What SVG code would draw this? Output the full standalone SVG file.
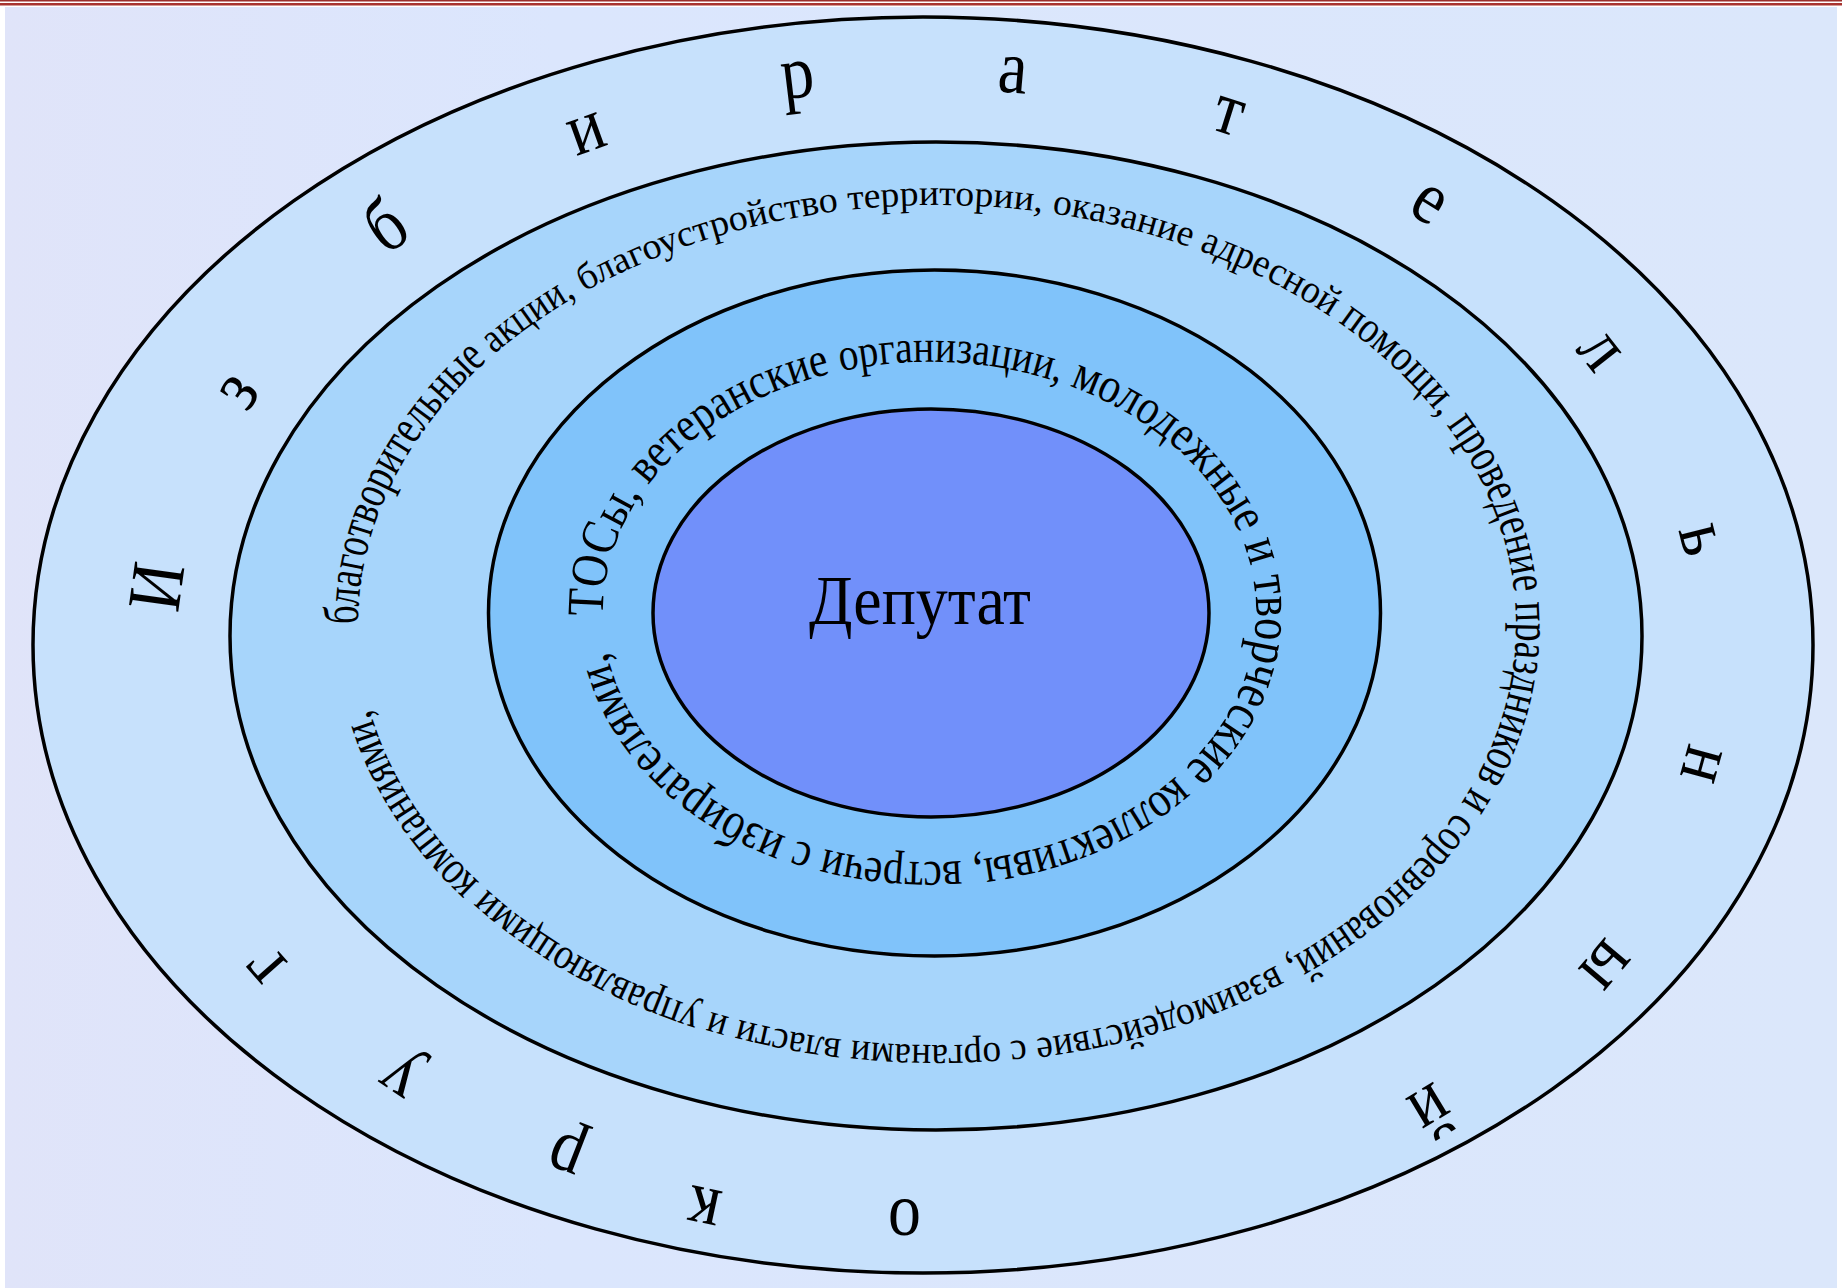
<svg xmlns="http://www.w3.org/2000/svg" width="1842" height="1288" viewBox="0 0 1842 1288">
<defs>
<linearGradient id="bg" x1="0" y1="0" x2="1" y2="0">
<stop offset="0" stop-color="#e0e4f9"/>
<stop offset="0.3" stop-color="#dbe6fd"/>
<stop offset="1" stop-color="#dbe7fb"/>
</linearGradient>
<path id="p2" d="M362.3,676.2 A579,420 0 1,1 1511.7,573.8 A579,420 0 1,1 362.3,676.2"/>
<path id="p3" d="M604.2,633.8 A326.5,250 0 1,1 1254.8,590.2 A326.5,250 0 1,1 604.2,633.8"/>
</defs>
<style>
.ring{stroke:#000;stroke-width:3.5}
.t{font-family:"Liberation Serif","Times New Roman",serif;fill:#000}
.big{font-size:66px}
</style>
<rect x="0" y="0" width="1842" height="1288" fill="#ffffff"/>
<rect x="5" y="7" width="1832" height="1281" fill="url(#bg)"/>
<rect x="0" y="0" width="1842" height="1.5" fill="#9b2f2c"/>
<rect x="0" y="3" width="1842" height="2.5" fill="#a8332f"/>
<g id="ring-outer">
<ellipse class="ring" cx="923" cy="645" rx="890" ry="628" fill="#c7e1fc"/>
<g class="t big" text-anchor="middle">
<text transform="translate(160.9,587.4) rotate(-82.06) scale(1,1.15)" y="18">И</text>
<text transform="translate(240.8,393.5) rotate(-56.05) scale(1,1.15)" y="14">з</text>
<text transform="translate(387.7,229.1) rotate(-35.2) scale(1,1.15)" y="18">б</text>
<text transform="translate(587.4,135.1) rotate(-19.8) scale(1,1.15)" y="14">и</text>
<text transform="translate(798.8,88.1) rotate(-6.9) scale(1,1.15)" y="8">р</text>
<text transform="translate(1012.6,76.4) rotate(4.97) scale(1,1.15)" y="14">а</text>
<text transform="translate(1227.6,117.5) rotate(17.5) scale(1,1.15)" y="14">т</text>
<text transform="translate(1427.3,205.6) rotate(32.2) scale(1,1.15)" y="14">е</text>
<text transform="translate(1597.6,352.4) rotate(51.6) scale(1,1.15)" y="14">л</text>
<text transform="translate(1697.4,540.4) rotate(76.1) scale(1,1.15)" y="14">ь</text>
<text transform="translate(1699.8,763.6) rotate(105.4) scale(1,1.15)" y="14">н</text>
<text transform="translate(1603.5,963.3) rotate(130.4) scale(1,1.15)" y="14">ы</text>
<text transform="translate(1427.3,1104.2) rotate(148.9) scale(1,1.15)" y="14">й</text>
<text transform="translate(904.5,1215.8) rotate(-179) scale(1,1.15)" y="14">о</text>
<text transform="translate(704.8,1204.1) rotate(-167.9) scale(1,1.15)" y="14">к</text>
<text transform="translate(569.7,1145.3) rotate(-158.8) scale(1,1.15)" y="8">р</text>
<text transform="translate(405.3,1069) rotate(-146.1) scale(1,1.15)" y="8">у</text>
<text transform="translate(267.8,963.3) rotate(-131.5) scale(1,1.15)" y="14">г</text>
</g>
</g>
<g id="ring-second">
<ellipse class="ring" cx="936" cy="636" rx="706" ry="494" fill="#a7d5fb"/>
<text class="t"><textPath href="#p2" startOffset="52"><tspan font-size="50" textLength="312" lengthAdjust="spacingAndGlyphs">благотворительные </tspan><tspan font-size="42" textLength="110" lengthAdjust="spacingAndGlyphs">акции, </tspan><tspan font-size="37" textLength="278" lengthAdjust="spacingAndGlyphs">благоустройство </tspan><tspan font-size="36" textLength="204" lengthAdjust="spacingAndGlyphs">территории, </tspan><tspan font-size="37" textLength="152" lengthAdjust="spacingAndGlyphs">оказание </tspan><tspan font-size="40" textLength="157" lengthAdjust="spacingAndGlyphs">адресной </tspan><tspan font-size="45" textLength="150" lengthAdjust="spacingAndGlyphs">помощи, </tspan><tspan font-size="50" textLength="192.6" lengthAdjust="spacingAndGlyphs">проведение </tspan><tspan font-size="51" textLength="192.3" lengthAdjust="spacingAndGlyphs">праздников </tspan><tspan font-size="50" textLength="29.3" lengthAdjust="spacingAndGlyphs">и </tspan><tspan font-size="47" textLength="239" lengthAdjust="spacingAndGlyphs">соревнований, </tspan><tspan font-size="41" textLength="262.6" lengthAdjust="spacingAndGlyphs">взаимодействие </tspan><tspan font-size="39" textLength="25.8" lengthAdjust="spacingAndGlyphs">с </tspan><tspan font-size="39" textLength="158.4" lengthAdjust="spacingAndGlyphs">органами </tspan><tspan font-size="40" textLength="114.8" lengthAdjust="spacingAndGlyphs">власти </tspan><tspan font-size="41" textLength="29.3" lengthAdjust="spacingAndGlyphs">и </tspan><tspan font-size="44" textLength="257.4" lengthAdjust="spacingAndGlyphs">управляющими </tspan><tspan font-size="49" textLength="207.7" lengthAdjust="spacingAndGlyphs">компаниями,</tspan></textPath></text>
</g>
<g id="ring-third">
<ellipse class="ring" cx="934.5" cy="613" rx="446" ry="343" fill="#80c3fa"/>
<text class="t"><textPath href="#p3" startOffset="17.5"><tspan font-size="52" textLength="141.5" lengthAdjust="spacingAndGlyphs">ТОСы, </tspan><tspan font-size="49" textLength="228.3" lengthAdjust="spacingAndGlyphs">ветеранские </tspan><tspan font-size="46" textLength="231.8" lengthAdjust="spacingAndGlyphs">организации, </tspan><tspan font-size="50" textLength="242.2" lengthAdjust="spacingAndGlyphs">молодежные </tspan><tspan font-size="54" textLength="34.9" lengthAdjust="spacingAndGlyphs">и </tspan><tspan font-size="55" textLength="223.4" lengthAdjust="spacingAndGlyphs">творческие </tspan><tspan font-size="51" textLength="234.8" lengthAdjust="spacingAndGlyphs">коллективы, </tspan><tspan font-size="49" textLength="148.7" lengthAdjust="spacingAndGlyphs">встречи </tspan><tspan font-size="49" textLength="29" lengthAdjust="spacingAndGlyphs">с </tspan><tspan font-size="52" textLength="268.8" lengthAdjust="spacingAndGlyphs">избирателями,</tspan></textPath></text>
</g>
<g id="deputat">
<ellipse class="ring" cx="931" cy="613" rx="278" ry="204" fill="#7190fa"/>
<text class="t" x="920" y="624" font-size="70" text-anchor="middle" textLength="222" lengthAdjust="spacingAndGlyphs">Депутат</text>
</g>
<g id="connectors"/>
</svg>
